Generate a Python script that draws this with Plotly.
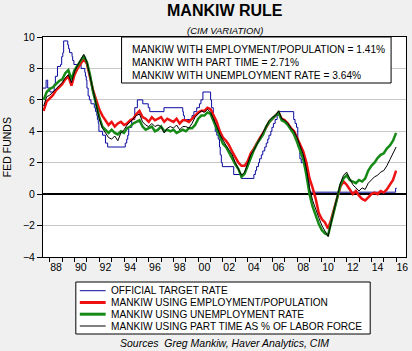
import plotly.graph_objects as go

# ---------------- data ----------------
start_year = 1987.5  # first quarterly observation
red_emp_pop = [
    5.3, 5.9,
    6.1, 6.3, 6.6, 6.8,
    7.0, 7.3, 7.5, 6.9,
    7.6, 8.0, 8.3, 8.6,
    8.3, 7.5, 6.6, 6.0,
    5.4, 5.0, 4.7, 4.4,
    4.6, 4.3, 4.5, 4.6,
    4.4, 4.5, 4.7, 4.8,
    5.1, 5.3, 4.9, 4.8,
    4.6, 4.9, 4.7, 4.8,
    4.9, 4.6, 4.8, 4.7,
    4.6, 4.8, 4.5, 4.7,
    4.7, 4.6, 4.8, 5.0,
    5.2, 5.3, 5.3, 5.5,
    5.4, 5.0, 4.6, 4.0,
    3.6, 3.4, 3.1, 2.7,
    2.3, 2.0, 1.8, 1.8,
    2.1, 2.6, 2.9, 3.3,
    3.6, 3.9, 4.3, 4.6,
    4.8, 5.0, 5.2, 4.8,
    4.7, 4.5, 4.2, 4.0,
    3.6, 3.2, 2.7, 2.0,
    1.0, 0.4, -0.3, -1.2,
    -1.6, -1.8, -2.2, -1.6,
    -0.9, -0.1, 0.5, 0.8,
    0.6, 0.3, 0.0, 0.2,
    -0.1, -0.3, -0.4, -0.2,
    0.0, 0.1, 0.0, 0.2,
    0.1, 0.3, 0.6, 0.9,
    1.5,
]
green_unemp = [
    6.0, 6.5,
    6.7, 6.8, 7.0, 7.2,
    7.3, 7.7, 7.9, 7.3,
    7.9, 8.2, 8.5, 8.8,
    8.4, 7.6, 6.5, 5.7,
    4.9, 4.3, 4.1, 3.9,
    4.1, 3.9, 3.8, 4.0,
    3.9, 4.2, 4.3, 4.5,
    4.6, 4.7, 4.3, 4.1,
    4.2, 4.3, 4.0, 4.1,
    4.3, 4.0, 4.1, 4.0,
    4.1, 3.9, 4.0, 4.1,
    4.0, 4.2, 4.2, 4.4,
    4.8, 5.0, 5.0, 5.2,
    5.1, 4.6, 4.2, 3.6,
    3.2, 3.0, 2.6, 2.3,
    1.9, 1.6, 1.1, 1.3,
    1.8, 2.4, 2.8, 3.2,
    3.5, 3.8, 4.3, 4.6,
    4.8, 5.0, 5.2, 4.7,
    4.6, 4.4, 4.1, 3.8,
    3.3, 2.8, 2.2, 1.2,
    0.0, -0.8, -1.4, -1.9,
    -2.3, -2.5, -2.6, -1.7,
    -1.0, -0.2, 0.6, 1.0,
    1.2, 0.9, 0.8, 0.7,
    0.9, 0.8, 1.0, 1.5,
    1.8, 2.0, 2.3, 2.5,
    2.6, 2.9, 3.1, 3.4,
    3.9,
]
black_part_time = [
    5.6, 6.2,
    6.3, 6.5, 6.7, 6.9,
    7.1, 7.4, 7.6, 7.1,
    7.8, 8.2, 8.6, 8.9,
    8.4, 7.5, 6.4, 5.6,
    4.8, 4.2, 3.9, 3.6,
    3.5, 3.7, 3.4, 3.9,
    4.1, 4.4, 4.6, 4.8,
    5.0, 5.1, 4.6, 4.4,
    4.3, 4.5, 4.3, 4.4,
    4.3, 3.9, 4.2, 4.3,
    4.2, 4.4, 4.1, 4.3,
    4.3, 4.2, 4.5, 4.9,
    5.1, 5.3, 5.2, 5.4,
    5.2, 4.8, 4.3, 3.8,
    3.4, 3.1, 2.8, 2.5,
    2.0, 1.6, 1.2, 1.4,
    1.9, 2.5, 2.8, 3.2,
    3.6, 4.0, 4.4, 4.7,
    4.9, 5.0, 5.3, 4.8,
    4.7, 4.5, 4.2, 4.0,
    3.6, 3.1, 2.5, 1.6,
    0.4, -0.4, -1.0, -1.5,
    -2.0, -2.4, -2.7, -1.8,
    -1.0, -0.1, 0.7, 1.2,
    1.4, 1.0, 0.6, 0.4,
    0.2, 0.4, 0.3, 0.7,
    0.9, 1.1, 1.2, 1.4,
    1.5, 1.8, 2.2, 2.6,
    3.0,
]
quarter_years = [start_year + 0.25 * i for i in range(len(red_emp_pop))]

# official target rate: change dates (decimal years) and new levels
target_dates = [
    1987.45, 1987.70, 1987.83, 1988.00, 1988.35, 1988.45, 1988.62, 1988.87, 1988.96,
    1989.05, 1989.12, 1989.45, 1989.52, 1989.60, 1989.80, 1989.85, 1989.95,
    1990.53, 1990.83, 1990.88, 1990.95, 1991.00, 1991.10, 1991.20, 1991.33,
    1991.60, 1991.70, 1991.80, 1991.85, 1991.92, 1991.97, 1992.27, 1992.50, 1992.68,
    1994.10, 1994.22, 1994.30, 1994.38, 1994.62, 1994.87, 1995.08, 1995.52, 1995.96,
    1996.08, 1997.23, 1998.75, 1998.80, 1998.88, 1999.50, 1999.65, 1999.88,
    2000.10, 2000.22, 2000.38, 2001.00, 2001.08, 2001.22, 2001.30, 2001.38,
    2001.50, 2001.62, 2001.72, 2001.78, 2001.87, 2001.95, 2002.87, 2003.48,
    2004.50, 2004.62, 2004.72, 2004.87, 2004.96, 2005.10, 2005.22, 2005.38,
    2005.50, 2005.62, 2005.72, 2005.87, 2005.96, 2006.08, 2006.22, 2006.38,
    2006.48, 2007.72, 2007.83, 2007.95, 2008.05, 2008.08, 2008.22, 2008.33,
    2008.77, 2008.83, 2008.96, 2015.96, 2016.05,
]
target_rate = [
    6.75, 7.25, 6.75, 6.5, 7.0, 7.5, 8.125, 8.25, 8.75,
    9.0, 9.75, 9.5, 9.25, 9.0, 8.75, 8.5, 8.25,
    8.0, 7.75, 7.5, 7.25, 6.75, 6.25, 6.0, 5.75,
    5.5, 5.25, 5.0, 4.75, 4.5, 4.0, 3.75, 3.25, 3.0,
    3.25, 3.5, 3.75, 4.25, 4.75, 5.5, 6.0, 5.75, 5.5,
    5.25, 5.5, 5.25, 5.0, 4.75, 5.0, 5.25, 5.5,
    5.75, 6.0, 6.5, 6.0, 5.5, 5.0, 4.5, 4.0,
    3.75, 3.5, 3.0, 2.5, 2.0, 1.75, 1.25, 1.0,
    1.25, 1.5, 1.75, 2.0, 2.25, 2.5, 2.75, 3.0,
    3.25, 3.5, 3.75, 4.0, 4.25, 4.5, 4.75, 5.0,
    5.25, 4.75, 4.5, 4.25, 3.5, 3.0, 2.25, 2.0,
    1.5, 1.0, 0.125, 0.375, 0.375,
]

series_names = [
    "OFFICIAL TARGET RATE",
    "MANKIW USING EMPLOYMENT/POPULATION",
    "MANKIW USING UNEMPLOYMENT RATE",
    "MANKIW USING PART TIME AS % OF LABOR FORCE",
]
box_lines = [
    "MANKIW WITH EMPLOYMENT/POPULATION = 1.41%",
    "MANKIW WITH PART TIME = 2.71%",
    "MANKIW WITH UNEMPLOYMENT RATE = 3.64%",
]
year_ticks = list(range(1988, 2017))
label_years = list(range(1988, 2017, 2))
label_text = [f"{y % 100:02d}" for y in label_years]
y_ticks = [-4, -2, 0, 2, 4, 6, 8, 10]

# ---------------- styles ----------------
BLUE = "#0a0aa0"
RED = "#ee1111"
GREEN = "#168a16"
BLACK = "#000000"
FONT = "Liberation Sans, Arial, sans-serif"

fig = go.Figure()
fig.add_trace(go.Scatter(x=target_dates, y=target_rate, mode="lines", line_shape="hv",
                         line=dict(color=BLUE, width=1), name=series_names[0], showlegend=False))
fig.add_trace(go.Scatter(x=quarter_years, y=red_emp_pop, mode="lines",
                         line=dict(color=RED, width=2.5), name=series_names[1], showlegend=False))
fig.add_trace(go.Scatter(x=quarter_years, y=green_unemp, mode="lines",
                         line=dict(color=GREEN, width=2.5), name=series_names[2], showlegend=False))
fig.add_trace(go.Scatter(x=quarter_years, y=black_part_time, mode="lines",
                         line=dict(color=BLACK, width=1), name=series_names[3], showlegend=False))

W, H = 412, 351
L, R, T, B = 43, 4, 37, 94
pw, ph = W - L - R, H - T - B


def px(xp):
    return (xp - L) / pw


def py(yp):
    return (H - B - yp) / ph


fig.update_layout(
    width=W, height=H,
    margin=dict(l=L, r=R, t=T, b=B, pad=0),
    paper_bgcolor="#f0f0f0",
    plot_bgcolor="white",
    font=dict(family=FONT, size=10, color="black"),
    showlegend=False,
    xaxis=dict(
        range=[1987.45, 2016.8],
        tickmode="array", tickvals=[y + 0.5 for y in label_years], ticktext=label_text,
        ticks="", showgrid=False, zeroline=False,
        showline=True, linecolor="black", linewidth=1, mirror=True,
        tickfont=dict(size=10.5),
        minor=dict(tickmode="array", tickvals=year_ticks, ticks="outside", ticklen=4,
                   tickcolor="black", tickwidth=1, showgrid=False),
    ),
    yaxis=dict(
        range=[-4, 10], tickmode="array", tickvals=y_ticks,
        ticks="outside", ticklen=5, tickcolor="black",
        showgrid=True, gridcolor="#c8c8c8", gridwidth=1,
        zeroline=True, zerolinecolor="black", zerolinewidth=1.5,
        showline=True, linecolor="black", linewidth=1, mirror=True,
        tickfont=dict(size=10.5),
    ),
)

shapes = []
annotations = []

# title, subtitle, axis title, sources
annotations.append(dict(text="<b>MANKIW RULE</b>", x=0.5, y=py(10.5), xref="paper", yref="paper",
                        showarrow=False, font=dict(size=16), xanchor="center", yanchor="middle"))
annotations.append(dict(text="<i>(CIM VARIATION)</i>", x=0.5, y=py(30), xref="paper", yref="paper",
                        showarrow=False, font=dict(size=9.5), xanchor="center", yanchor="middle"))
annotations.append(dict(text="FED FUNDS", x=px(7), y=0.5, xref="paper", yref="paper", textangle=-90,
                        showarrow=False, font=dict(size=10.5), xanchor="center", yanchor="middle"))
annotations.append(dict(text="<i>Sources  Greg Mankiw, Haver Analytics, CIM</i>", x=px(226), y=py(343),
                        xref="paper", yref="paper", showarrow=False, font=dict(size=10.5),
                        xanchor="center", yanchor="middle"))

# info box
shapes.append(dict(type="rect", xref="paper", yref="paper", x0=px(122), x1=px(393), y0=py(83), y1=py(37),
                   fillcolor="white", line=dict(color="black", width=1), layer="above"))
for i, (txt, yp) in enumerate(zip(box_lines, [49.5, 62.5, 75.0])):
    annotations.append(dict(text=txt, x=px(130), y=py(yp), xref="paper", yref="paper", showarrow=False,
                            font=dict(size=10.2), xanchor="left", yanchor="middle"))

# legend box (manual, compact)
shapes.append(dict(type="rect", xref="paper", yref="paper", x0=px(76), x1=px(372), y0=py(334), y1=py(282),
                   fillcolor="white", line=dict(color="black", width=1)))
leg_colors = [BLUE, RED, GREEN, BLACK]
leg_widths = [1, 3, 3, 1]
for name, col, wd, yp in zip(series_names, leg_colors, leg_widths, [290.7, 302.5, 314.2, 326.0]):
    shapes.append(dict(type="line", xref="paper", yref="paper", x0=px(80), x1=px(106), y0=py(yp), y1=py(yp),
                       line=dict(color=col, width=wd)))
    annotations.append(dict(text=name, x=px(109), y=py(yp), xref="paper", yref="paper", showarrow=False,
                            font=dict(size=10.1), xanchor="left", yanchor="middle"))

fig.update_layout(shapes=shapes, annotations=annotations)
fig.write_html("out.html")
